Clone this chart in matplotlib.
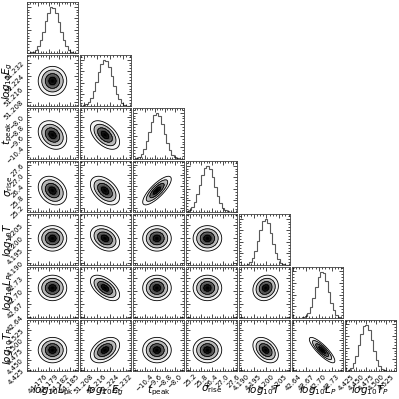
import numpy as np
import matplotlib
matplotlib.use("Agg")
import matplotlib.pyplot as plt
from matplotlib.colors import LinearSegmentedColormap
from matplotlib.ticker import AutoMinorLocator, FixedLocator, MaxNLocator

# ------------------------------------------------------------
# parameters of the posterior
LABELS = [r"$log_{10}L_{\rm pk}$", r"$log_{10}E_g$", r"$t_{\rm peak}$",
          r"$\sigma_{\rm rise}$", r"$log_{10}T$", r"$log_{10}L_P$",
          r"$log_{10}T_P$"]

# panel ranges
LO = [44.1729, 51.2055, -11.32, 24.95, 4.1892, 42.638, 4.4225]
HI = [44.1872, 51.2369, -7.28, 27.80, 4.2093, 42.756, 4.5500]

# centre and width of each marginal
MEANS = [44.18005, 51.2209, -9.42, 26.147, 4.1997, 42.7076, 4.4748]
SIGMAS = [0.0020, 0.0045, 0.566, 0.40, 0.00251, 0.01475, 0.0159]

# pairwise correlations (row, col)
CORR = {
    (1, 0): 0.0,
    (2, 0): -0.25, (2, 1): -0.5,
    (3, 0): -0.25, (3, 1): -0.45, (3, 2): 0.8,
    (4, 0): 0.0, (4, 1): -0.3, (4, 2): 0.0, (4, 3): 0.0,
    (5, 0): 0.0, (5, 1): -0.55, (5, 2): 0.0, (5, 3): 0.0, (5, 4): 0.15,
    (6, 0): 0.0, (6, 1): 0.4, (6, 2): 0.0, (6, 3): 0.0, (6, 4): -0.38,
    (6, 5): -0.85,
}

# tick positions / labels
TICKS = [
    [44.176, 44.179, 44.182, 44.185],
    [51.208, 51.216, 51.224, 51.232],
    [-10.4, -9.6, -8.8, -8.0],
    [25.2, 25.8, 26.4, 27.0, 27.6],
    [4.190, 4.195, 4.200, 4.205],
    [42.64, 42.67, 42.70, 42.73],
    [4.425, 4.450, 4.475, 4.500, 4.525],
]
TICKLABELS = [
    ["44.176", "44.179", "44.182", "44.185"],
    ["51.208", "51.216", "51.224", "51.232"],
    ["\u221210.4", "\u22129.6", "\u22128.8", "\u22128.0"],
    ["25.2", "25.8", "26.4", "27.0", "27.6"],
    ["4.190", "4.195", "4.200", "4.205"],
    ["42.64", "42.67", "42.70", "42.73"],
    ["4.425", "4.450", "4.475", "4.500", "4.525"],
]

# 1D marginal histograms (20 bins, peak normalised)
HIST_LPK = [0.004, 0.012, 0.03, 0.07, 0.15, 0.28, 0.46, 0.68, 0.87, 1.00,
            0.97, 0.86, 0.66, 0.45, 0.27, 0.14, 0.07, 0.03, 0.01, 0.003]
HIST_EG = [0.005, 0.015, 0.04, 0.09, 0.18, 0.33, 0.52, 0.73, 0.90, 1.00,
           0.97, 0.84, 0.64, 0.44, 0.26, 0.14, 0.066, 0.027, 0.01, 0.003]
HIST_TPEAK = [0.006, 0.019, 0.048, 0.11, 0.22, 0.38, 0.59, 0.79, 0.95, 1.00,
              0.93, 0.75, 0.54, 0.34, 0.19, 0.093, 0.04, 0.015, 0.005, 0.002]
HIST_SRISE = [0.019, 0.048, 0.11, 0.22, 0.38, 0.59, 0.79, 0.95, 1.00, 0.93,
              0.75, 0.54, 0.34, 0.19, 0.093, 0.04, 0.015, 0.005, 0.002, 0.0005]
HIST_T = [0.0005, 0.002, 0.007, 0.022, 0.062, 0.15, 0.30, 0.51, 0.75, 0.94,
          1.00, 0.91, 0.70, 0.46, 0.26, 0.125, 0.051, 0.018, 0.005, 0.001]
HIST_LP = [0.0001, 0.0003, 0.001, 0.004, 0.014, 0.042, 0.106, 0.23, 0.42, 0.66,
           0.87, 0.99, 0.96, 0.79, 0.56, 0.33, 0.17, 0.074, 0.028, 0.009]
HIST_TP = [0.009, 0.028, 0.074, 0.17, 0.33, 0.56, 0.79, 0.96, 0.99, 0.87,
           0.66, 0.42, 0.23, 0.106, 0.042, 0.014, 0.004, 0.001, 0.0003, 0.0001]
HISTS = [HIST_LPK, HIST_EG, HIST_TPEAK, HIST_SRISE, HIST_T, HIST_LP, HIST_TP]
# ------------------------------------------------------------

K = len(LABELS)
SIG_LEVELS = [0.5, 1.0, 1.5, 2.0]

density_cmap = LinearSegmentedColormap.from_list("dens", [(1, 1, 1, 0), (0, 0, 0, 1)])


def style_axis(ax):
    ax.tick_params(which="both", direction="in", top=True, right=True,
                   width=0.5, labelsize=5, pad=1.5)
    ax.tick_params(which="major", length=3)
    ax.tick_params(which="minor", length=1.5)
    for sp in ax.spines.values():
        sp.set_linewidth(0.6)
        sp.set_color("0.25")


fig, axes = plt.subplots(K, K, figsize=(3.99, 3.99), dpi=100)
fig.subplots_adjust(left=27/399, right=396/399, bottom=1-371/399,
                    top=1-2/399, wspace=0.04, hspace=0.04)

for i in range(K):
    for j in range(K):
        ax = axes[i, j]
        if j > i:
            ax.set_visible(False)
            continue
        style_axis(ax)
        ax.set_xlim(LO[j], HI[j])
        ax.xaxis.set_major_locator(FixedLocator(TICKS[j]))
        ax.xaxis.set_minor_locator(AutoMinorLocator(4))

        if i == j:
            edges = np.linspace(LO[i], HI[i], len(HISTS[i]) + 1)
            ax.stairs(HISTS[i], edges, color="0.35", lw=0.8)
            ax.set_ylim(0, 1.1 * max(HISTS[i]))
            ax.yaxis.set_major_locator(MaxNLocator(5))
            ax.yaxis.set_minor_locator(AutoMinorLocator(4))
            ax.set_yticklabels([])
        else:
            ax.set_ylim(LO[i], HI[i])
            ax.yaxis.set_major_locator(FixedLocator(TICKS[i]))
            ax.yaxis.set_minor_locator(AutoMinorLocator(4))
            rho = CORR[(i, j)]
            x = np.linspace(LO[j], HI[j], 120)
            y = np.linspace(LO[i], HI[i], 120)
            X, Y = np.meshgrid(x, y)
            u = (X - MEANS[j]) / SIGMAS[j]
            v = (Y - MEANS[i]) / SIGMAS[i]
            r2 = (u**2 - 2*rho*u*v + v**2) / (1 - rho**2)
            dens = np.exp(-0.5 * r2) ** 1.5
            dens = np.ma.masked_where(r2 > 4.0, dens)
            ax.pcolormesh(X, Y, dens, cmap=density_cmap, vmin=0, vmax=1,
                          shading="auto", rasterized=True)
            lv = [s**2 for s in SIG_LEVELS]
            ax.contourf(X, Y, r2, [0] + lv,
                        colors=[(0, 0, 0, 0.55), (0, 0, 0, 0.4),
                                (0, 0, 0, 0.2), (0, 0, 0, 0.03)])
            ax.contour(X, Y, r2, lv, colors="k", linewidths=0.6)

        if i < K - 1:
            ax.set_xticklabels([])
        else:
            ax.set_xticklabels(TICKLABELS[j], rotation=45)
            ax.set_xlabel(LABELS[j], fontsize=7.5, labelpad=0)
            ax.xaxis.set_label_coords(0.5, -0.24)

        if j > 0 or i == j:
            if i != j:
                ax.set_yticklabels([])
        else:
            ax.set_yticklabels(TICKLABELS[i], rotation=45)
            ax.set_ylabel(LABELS[i], fontsize=7.5, labelpad=0)
            ax.yaxis.set_label_coords(-0.23, 0.5)

fig.savefig("out.png", dpi=100)
